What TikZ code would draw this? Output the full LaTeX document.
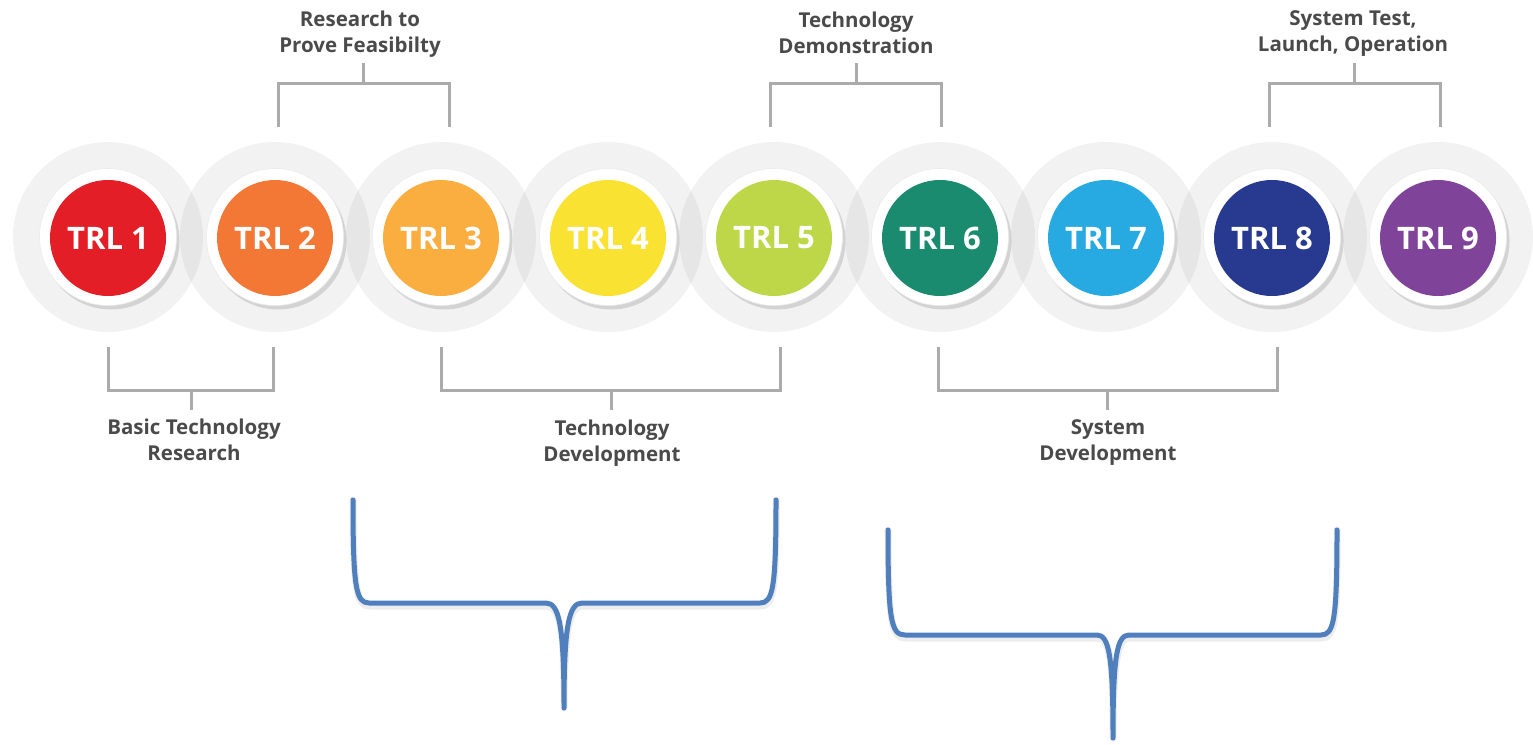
\documentclass[tikz,border=0pt]{standalone}
\usepackage{fontspec}
\setmainfont{Open Sans}
\newfontfamily\labfont{Open Sans Bold}
\usetikzlibrary{calc,shadows}
\definecolor{trlA}{HTML}{E41E26}
\definecolor{trlB}{HTML}{F37735}
\definecolor{trlC}{HTML}{FBAE40}
\definecolor{trlD}{HTML}{F9E231}
\definecolor{trlE}{HTML}{BDD748}
\definecolor{trlF}{HTML}{1B8B6F}
\definecolor{trlG}{HTML}{27AAE1}
\definecolor{trlH}{HTML}{283A8F}
\definecolor{trlI}{HTML}{7F4399}
\definecolor{labgray}{HTML}{4A4A4A}
\definecolor{brkgray}{HTML}{ABABAB}
\definecolor{braceblue}{HTML}{4F80BD}
\tikzset{
  halo/.style={circle, minimum size=190pt, inner sep=0pt, fill=black, fill opacity=0.05},
  ring/.style={circle, minimum size=137pt, inner sep=0pt, fill=white, draw=black!8, line width=0.6pt,
    drop shadow={shadow xshift=3pt, shadow yshift=-4pt, opacity=0.22, fill=black!60}},
  disk/.style={circle, minimum size=116pt, inner sep=0pt, text=white, font=\bfseries\fontsize{31}{31}\selectfont},
  lab/.style={align=center, text=labgray, font=\labfont\fontsize{20.5}{26}\selectfont, inner sep=0pt},
  bracket/.style={draw=brkgray, line width=3pt},
  bracemark/.style={draw=braceblue, line width=5pt, line cap=round, line join=round},
  braceshadow/.style={draw=black, opacity=0.07, line width=7pt, line cap=round, line join=round}
}
\begin{document}
\begin{tikzpicture}[x=1pt,y=-1pt]
\useasboundingbox (0,0) rectangle (1533,744);
% halos
\foreach \i/\x in {1/108,2/275,3/441,4/608,5/774,6/940,7/1106,8/1272,9/1438}
  \node[halo] (h\i) at (\x,237) {};
% rings
\foreach \i/\x in {1/108,2/275,3/441,4/608,5/774,6/940,7/1106,8/1272,9/1438}
  \node[ring] (r\i) at (\x,237) {};
% disks
\foreach \i/\x/\c in {1/108/trlA,2/275/trlB,3/441/trlC,4/608/trlD,5/774/trlE,6/940/trlF,7/1106/trlG,8/1272/trlH,9/1438/trlI}
  \node[disk, fill=\c] (d\i) at (\x,238) {TRL \i};

% top labels
\node[lab] (lt1) at (360,34) {Research to\\Prove Feasibilty};
\node[lab] (lt2) at (856,33) {Technology\\Demonstration};
\node[lab] (lt3) at (1353,34) {System Test,\\Launch, Operation};
% bottom labels
\node[lab] (lb1) at (194,440) {Basic Technology\\Research};
\node[lab] (lb2) at (612,443) {Technology\\Development};
\node[lab] (lb3) at (1108,443) {System\\Development};

% top brackets
\coordinate (st1) at (363,63);
\coordinate (st2) at (856,63);
\coordinate (st3) at (1354,63);
\draw[bracket] ($(d2)+(3,-111)$) |- ($(d3)+(8,-155)$) -- ($(d3)+(8,-111)$);
\draw[bracket] (st1) -- (st1 |- 0,82);
\draw[bracket] ($(d5)+(-4,-111)$) |- ($(d6)+(1,-155)$) -- ($(d6)+(1,-111)$);
\draw[bracket] (st2) -- (st2 |- 0,82);
\draw[bracket] ($(d8)+(-3,-111)$) |- ($(d9)+(2,-155)$) -- ($(d9)+(2,-111)$);
\draw[bracket] (st3) -- (st3 |- 0,82);

% bottom brackets
\coordinate (sb1) at (191,410);
\coordinate (sb2) at (611,410);
\coordinate (sb3) at (1107,410);
\draw[bracket] ($(d1)+(0,109)$) |- ($(d2)+(-2,152)$) -- ($(d2)+(-2,109)$);
\draw[bracket] (sb1) -- (sb1 |- 0,390);
\draw[bracket] ($(d3)+(0,109)$) |- ($(d5)+(6,152)$) -- ($(d5)+(6,109)$);
\draw[bracket] (sb2) -- (sb2 |- 0,390);
\draw[bracket] ($(d6)+(-2,109)$) |- ($(d8)+(5,152)$) -- ($(d8)+(5,109)$);
\draw[bracket] (sb3) -- (sb3 |- 0,390);

% braces
\coordinate (ba1) at (353,500);
\coordinate (bb1) at (776,500);
\coordinate (bt1) at (564,708);
\coordinate (ba2) at (888,530);
\coordinate (bb2) at (1337,530);
\coordinate (bt2) at (1113,738);
\foreach \s/\dx/\dy in {braceshadow/0.5/3, bracemark/0/0} {
  \begin{scope}[shift={(\dx,\dy)}]
  \draw[\s] (ba1) .. controls (353,588) and (356,603) .. (369,603) -- (546,603)
     .. controls (559,603) and (564,625) .. (bt1)
     .. controls (564,625) and (569,603) .. (582,603) -- (760,603)
     .. controls (773,603) and (776,588) .. (bb1);
  \draw[\s] (ba2) .. controls (888,620) and (891,635) .. (905,635) -- (1097,635)
     .. controls (1109,635) and (1113,656) .. (bt2)
     .. controls (1113,656) and (1117,635) .. (1129,635) -- (1321,635)
     .. controls (1334,635) and (1337,620) .. (bb2);
  \end{scope}
}
\end{tikzpicture}
\end{document}
